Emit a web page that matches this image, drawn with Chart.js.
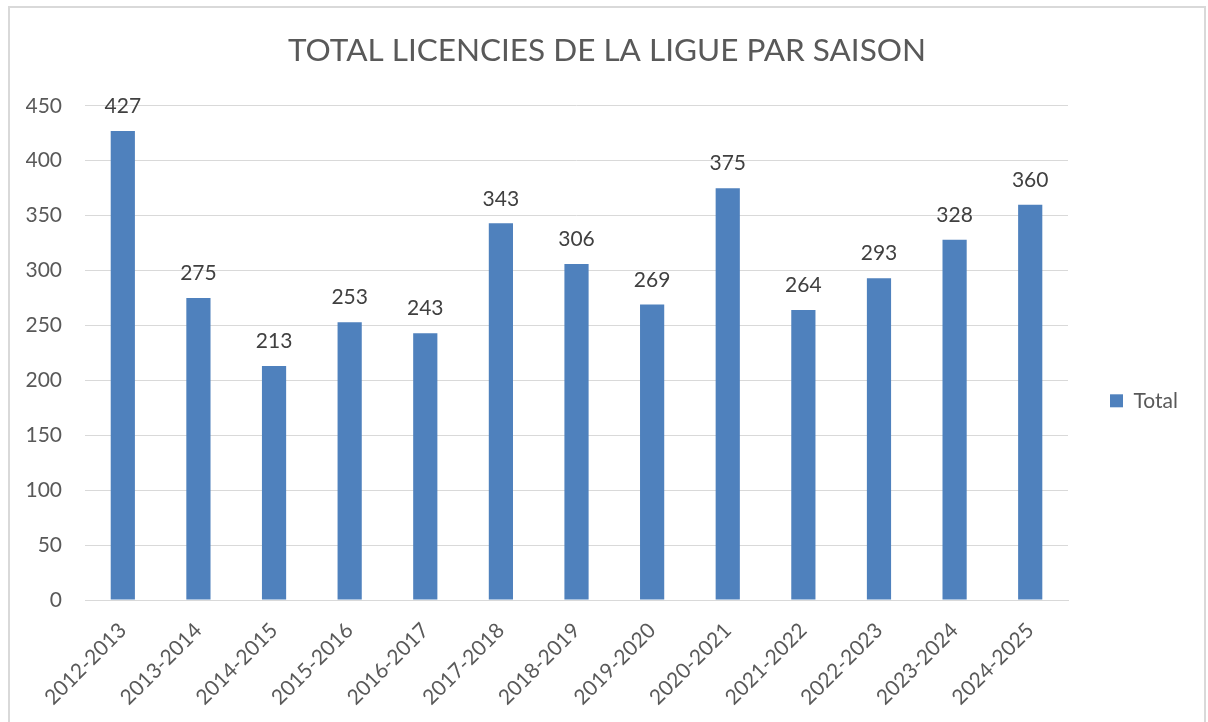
<!DOCTYPE html>
<html>
<head>
<meta charset="utf-8">
<script src="https://cdn.jsdelivr.net/npm/chart.js@4/dist/chart.umd.min.js"></script>
<style>
  html, body { margin: 0; padding: 0; background: #fff; }
  #wrap { width: 1208px; height: 722px; position: relative; }
</style>
</head>
<body>
<div id="wrap"><canvas id="licences" width="1208" height="722"></canvas></div>
<script>
// Données
const seasons = ['2012-2013', '2013-2014', '2014-2015', '2015-2016', '2016-2017', '2017-2018', '2018-2019',
  '2019-2020', '2020-2021', '2021-2022', '2022-2023', '2023-2024', '2024-2025'];
const totals = [427, 275, 213, 253, 243, 343, 306, 269, 375, 264, 293, 328, 360];
const yMin = 0;
const yMax = 450;
const yStep = 50;

const FONT = 'Lato, Calibri, Carlito, sans-serif';
const GREY_TEXT = '#595959';
const GRID = '#d9d9d9';

// cadre gris autour du graphique
const frame = {
  id: 'frame',
  beforeDraw(chart) {
    const ctx = chart.ctx;
    ctx.save();
    ctx.strokeStyle = GRID;
    ctx.lineWidth = 2;
    ctx.strokeRect(9, 7, 1196, 730);
    ctx.restore();
  }
};

// valeurs au-dessus des barres
const barValues = {
  id: 'barValues',
  afterDatasetsDraw(chart) {
    const ctx = chart.ctx;
    const meta = chart.getDatasetMeta(0);
    ctx.save();
    ctx.font = '21px ' + FONT;
    ctx.fillStyle = '#404040';
    ctx.textAlign = 'center';
    ctx.textBaseline = 'bottom';
    meta.data.forEach((bar, i) => {
      ctx.fillText(chart.data.datasets[0].data[i], bar.x, bar.y - 14);
    });
    ctx.restore();
  }
};

const config = {
  type: 'bar',
  data: {
    labels: seasons,
    datasets: [{
      label: 'Total',
      data: totals,
      backgroundColor: '#4f81bd',
      borderWidth: 0,
      barPercentage: 0.32,
      categoryPercentage: 1.0
    }]
  },
  options: {
    responsive: false,
    animation: false,
    layout: { padding: { left: 26, right: 20, top: 0, bottom: 0 } },
    plugins: {
      title: {
        display: true,
        text: 'TOTAL LICENCIES DE LA LIGUE PAR SAISON',
        color: GREY_TEXT,
        font: { family: FONT, size: 31.5, weight: 'normal' },
        padding: { top: 32, bottom: 36 }
      },
      legend: {
        position: 'right',
        title: { display: true, text: ' ', padding: 29, font: { size: 18 } },
        labels: {
          boxWidth: 13,
          boxHeight: 13,
          padding: 42,
          color: GREY_TEXT,
          font: { family: FONT, size: 21 }
        }
      },
      tooltip: { enabled: false }
    },
    scales: {
      x: {
        grid: { display: false },
        border: { color: GRID },
        ticks: {
          color: GREY_TEXT,
          font: { family: FONT, size: 21 },
          minRotation: 45,
          maxRotation: 45,
          padding: 10,
          autoSkip: false
        },
        afterFit(scale) { scale.height = 122; }
      },
      y: {
        min: yMin,
        max: yMax,
        grid: { color: GRID, drawTicks: false },
        border: { display: false },
        ticks: {
          stepSize: yStep,
          color: GREY_TEXT,
          font: { family: FONT, size: 21 },
          padding: 23
        },
        afterFit(scale) { scale.width = 59; }
      }
    }
  },
  plugins: [frame, barValues]
};

new Chart(document.getElementById('licences'), config);
</script>
</body>
</html>
